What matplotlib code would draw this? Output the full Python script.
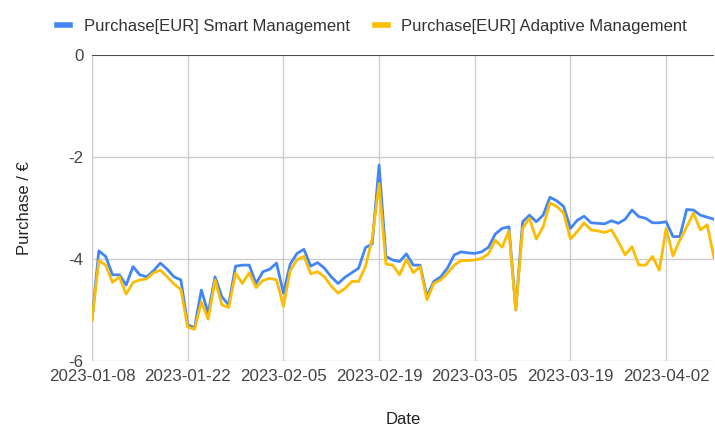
import matplotlib.pyplot as plt
import numpy as np
import pandas as pd

plt.rcParams['font.family'] = ['Liberation Sans', 'DejaVu Sans']
plt.rcParams['axes.unicode_minus'] = False

dates = pd.date_range("2023-01-08", periods=92, freq="D")

smart = [
    -5.20, -3.84, -3.95, -4.31, -4.31, -4.51, -4.15, -4.31, -4.35, -4.23,
    -4.08, -4.20, -4.35, -4.41, -5.29, -5.35, -4.61, -5.06, -4.35, -4.74,
    -4.90, -4.14, -4.12, -4.12, -4.48, -4.25, -4.20, -4.08, -4.67, -4.10,
    -3.89, -3.81, -4.14, -4.07, -4.18, -4.35, -4.48, -4.36, -4.27, -4.18,
    -3.78, -3.70, -2.16, -3.95, -4.02, -4.05, -3.90, -4.12, -4.12, -4.73,
    -4.44, -4.35, -4.18, -3.92, -3.86, -3.88, -3.89, -3.86, -3.77, -3.51,
    -3.40, -3.37, -5.00, -3.27, -3.14, -3.27, -3.14, -2.79, -2.86, -2.97,
    -3.40, -3.24, -3.16, -3.29, -3.30, -3.31, -3.25, -3.30, -3.22, -3.04,
    -3.17, -3.20, -3.29, -3.29, -3.27, -3.56, -3.56, -3.03, -3.04, -3.14,
    -3.18, -3.22,
]

adaptive = [
    -5.20, -4.03, -4.12, -4.46, -4.35, -4.69, -4.46, -4.41, -4.39, -4.27,
    -4.22, -4.35, -4.49, -4.60, -5.33, -5.38, -4.84, -5.18, -4.41, -4.90,
    -4.95, -4.28, -4.48, -4.27, -4.56, -4.42, -4.38, -4.41, -4.93, -4.23,
    -4.01, -3.95, -4.29, -4.25, -4.35, -4.53, -4.67, -4.58, -4.44, -4.44,
    -4.15, -3.60, -2.52, -4.10, -4.12, -4.31, -4.01, -4.27, -4.15, -4.80,
    -4.48, -4.41, -4.28, -4.12, -4.03, -4.03, -4.02, -3.99, -3.90, -3.63,
    -3.77, -3.45, -5.00, -3.40, -3.20, -3.61, -3.37, -2.90, -2.97, -3.10,
    -3.61, -3.46, -3.29, -3.43, -3.45, -3.48, -3.43, -3.66, -3.92, -3.76,
    -4.12, -4.12, -3.95, -4.22, -3.40, -3.94, -3.63, -3.37, -3.10, -3.43,
    -3.33, -3.98,
]

labels = ["Purchase[EUR] Smart Management", "Purchase[EUR] Adaptive Management"]

fig = plt.figure(figsize=(7.15, 4.32), dpi=100)
ax = fig.add_axes([92 / 715, 71 / 432, 622 / 715, 306 / 432])

ax.plot(dates, smart, color="#4285F4", lw=2, label=labels[0])
ax.plot(dates, adaptive, color="#FBBC04", lw=2, label=labels[1])

ax.set_xlim(dates[0], dates[-1])
ax.set_ylim(-6, 0)
ax.set_yticks([0, -2, -4, -6])
ticks = pd.date_range("2023-01-08", "2023-04-09", freq="14D")
ax.set_xticks(ticks)
ax.set_xticklabels([t.strftime("%Y-%m-%d") for t in ticks])

ax.grid(True, color="#cccccc", lw=1)
ax.axhline(0, color="#333333", lw=1.2, zorder=3)
for s in ax.spines.values():
    s.set_visible(False)
ax.tick_params(length=0, labelsize=12.2, colors="#444444", pad=6)

ax.set_xlabel("Date", fontsize=12, color="#222222", labelpad=20)
ax.set_ylabel("Purchase / €", fontsize=12, color="#222222", labelpad=26)

fig.legend(loc="upper left", bbox_to_anchor=(42 / 715, 1 - 4 / 432), ncol=2,
           frameon=False, fontsize=12, handlelength=0.8, handletextpad=0.8,
           columnspacing=1.5, labelcolor="#333333")
for h in fig.legends[0].legend_handles:
    h.set_linewidth(4)

fig.savefig("out.png", dpi=100)
